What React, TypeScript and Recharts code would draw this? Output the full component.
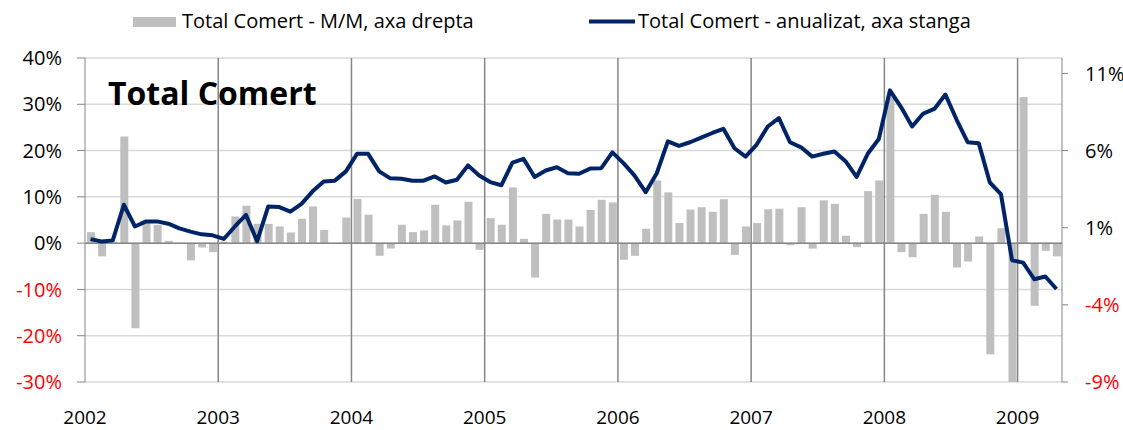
import { ComposedChart, Bar, Line, XAxis, YAxis, CartesianGrid, ReferenceLine, Legend } from 'recharts';

// luni 2002-01 .. 2009-04
const years = ['2002', '2003', '2004', '2005', '2006', '2007', '2008', '2009'];

// Total Comert - M/M (%), axa drepta
const mmValues = [
  0.71, -0.86, 0.1, 6.92, -5.51, 1.3, 1.19, 0.15, 0.0, -1.12, -0.28, -0.58,
  0.1, 1.73, 2.42, 1.25, 1.25, 1.08, 0.69, 1.58, 2.38, 0.86, 0.0, 1.66,
  2.87, 1.84, -0.82, -0.35, 1.19, 0.71, 0.82, 2.49, 1.15, 1.47, 2.68, -0.43,
  1.62, 1.19, 3.61, 0.28, -2.23, 1.9, 1.53, 1.53, 1.08, 2.16, 2.81, 2.64,
  -1.08, -0.82, 0.93, 4.06, 3.29, 1.3, 2.18, 2.33, 2.03, 2.85, -0.76, 1.08,
  1.3, 2.2, 2.23, -0.13, 2.33, -0.35, 2.77, 2.55, 0.48, -0.26, 3.37, 4.06,
  9.5, -0.58, -0.91, 1.9, 3.13, 2.03, -1.58, -1.19, 0.43, -7.2, 0.97, -9.1,
  9.47, -4.06, -0.5, -0.86,
];

// Total Comert - anualizat (%), axa stanga
const annualValues = [
  0.86, 0.36, 0.6, 8.3, 3.6, 4.7, 4.7, 4.2, 3.2, 2.5, 1.9, 1.7,
  0.9, 3.6, 6.1, 0.4, 7.9, 7.8, 6.8, 8.5, 11.2, 13.3, 13.5, 15.5,
  19.3, 19.3, 15.5, 14.0, 13.9, 13.5, 13.5, 14.4, 13.1, 13.7, 16.8, 14.6,
  13.2, 12.5, 17.4, 18.2, 14.3, 15.7, 16.4, 15.1, 15.0, 16.1, 16.2, 19.6,
  17.3, 14.6, 11.0, 15.1, 22.0, 21.0, 21.8, 22.8, 23.8, 24.7, 20.5, 18.7,
  21.3, 25.2, 27.0, 21.8, 20.7, 18.7, 19.3, 19.8, 17.7, 14.3, 19.3, 22.5,
  33.0, 29.4, 25.2, 28.0, 29.0, 32.1, 26.7, 21.8, 21.6, 13.1, 10.6, -3.7,
  -4.2, -7.8, -7.2, -9.9,
];

const leftTicks = [-30, -20, -10, 0, 10, 20, 30, 40];
const rightTicks = [-9, -4, 1, 6, 11];

const data = mmValues.map((mm, i) => ({ x: i + 0.5, mm, anual: annualValues[i] }));
const yearTicks = years.map((_, i) => i * 12);

const FONT = '"Open Sans", sans-serif';
const NAVY = '#002466';
const BAR = '#bfbfbf';
const AXIS = '#868686';

const LeftTick = ({ x, y, payload }: any) => (
  <text x={x} y={y} dy="0.36em" textAnchor="end" fontSize={20} fontFamily={FONT}
    fill={payload.value < 0 ? '#ff0000' : '#000'}>
    {payload.value}%
  </text>
);

const RightTick = ({ x, y, payload }: any) => (
  <text x={x} y={y} dy="0.36em" textAnchor="start" fontSize={20} fontFamily={FONT}
    fill={payload.value < 0 ? '#ff0000' : '#000'}>
    {payload.value}%
  </text>
);

const YearTick = ({ x, y, payload }: any) => (
  <text x={x} y={y + 42} textAnchor="middle" fontSize={19} fontFamily={FONT} fill="#000">
    {years[Math.round(payload.value / 12)]}
  </text>
);

const LegendBox = () => (
  <svg width={1123} height={40}>
    <rect x={133} y={17} width={43} height={10} fill={BAR} />
    <text x={182} y={28} fontSize={20} fontFamily={FONT} fill="#000">Total Comert - M/M, axa drepta</text>
    <line x1={589} x2={635} y1={21.5} y2={21.5} stroke={NAVY} strokeWidth={4} />
    <text x={638} y={28} fontSize={20} fontFamily={FONT} fill="#000">Total Comert - anualizat, axa stanga</text>
  </svg>
);

export default function App() {
  return (
    <div style={{ width: 1123, height: 430, position: 'relative', background: '#fff' }}>
      <style>{'body{margin:0}'}</style>
      <ComposedChart width={1123} height={430} data={data} margin={{ top: 58, right: 0, bottom: 0, left: 0 }}>
        <CartesianGrid yAxisId="left" horizontal vertical={false} stroke="#d9d9d9" strokeWidth={1.5} />
        <XAxis
          type="number"
          dataKey="x"
          domain={[0, 88]}
          ticks={yearTicks}
          allowDataOverflow
          axisLine={false}
          tickLine={false}
          tickSize={0}
          tickMargin={0}
          height={48}
          interval={0}
          tick={<YearTick />}
        />
        <YAxis
          yAxisId="left"
          orientation="left"
          width={85}
          domain={[-30, 40]}
          ticks={leftTicks}
          allowDataOverflow
          interval={0}
          stroke={AXIS}
          tickSize={8}
          tickMargin={15}
          tick={<LeftTick />}
        />
        <YAxis
          yAxisId="right"
          orientation="right"
          width={61}
          domain={[-9, 12]}
          ticks={rightTicks}
          allowDataOverflow
          interval={0}
          stroke={AXIS}
          tickSize={6}
          tickMargin={17}
          tick={<RightTick />}
        />
        {yearTicks.slice(1).map((t) => (
          <ReferenceLine key={t} x={t} yAxisId="left" stroke={AXIS} strokeWidth={1.5} />
        ))}
        <Bar yAxisId="right" dataKey="mm" fill={BAR} barSize={8} isAnimationActive={false} />
        <ReferenceLine y={0} yAxisId="left" stroke={AXIS} strokeWidth={1.5} />
        <Line
          yAxisId="left"
          type="linear"
          dataKey="anual"
          stroke={NAVY}
          strokeWidth={4}
          strokeLinejoin="round"
          dot={false}
          activeDot={false}
          isAnimationActive={false}
        />
        <Legend verticalAlign="middle" wrapperStyle={{ top: 0, left: 0, width: 1123, height: 40 }} content={<LegendBox />} />
        <text x={108} y={105} fontSize={32} fontWeight="bold" fontFamily={FONT} fill="#000">
          Total Comert
        </text>
      </ComposedChart>
    </div>
  );
}
